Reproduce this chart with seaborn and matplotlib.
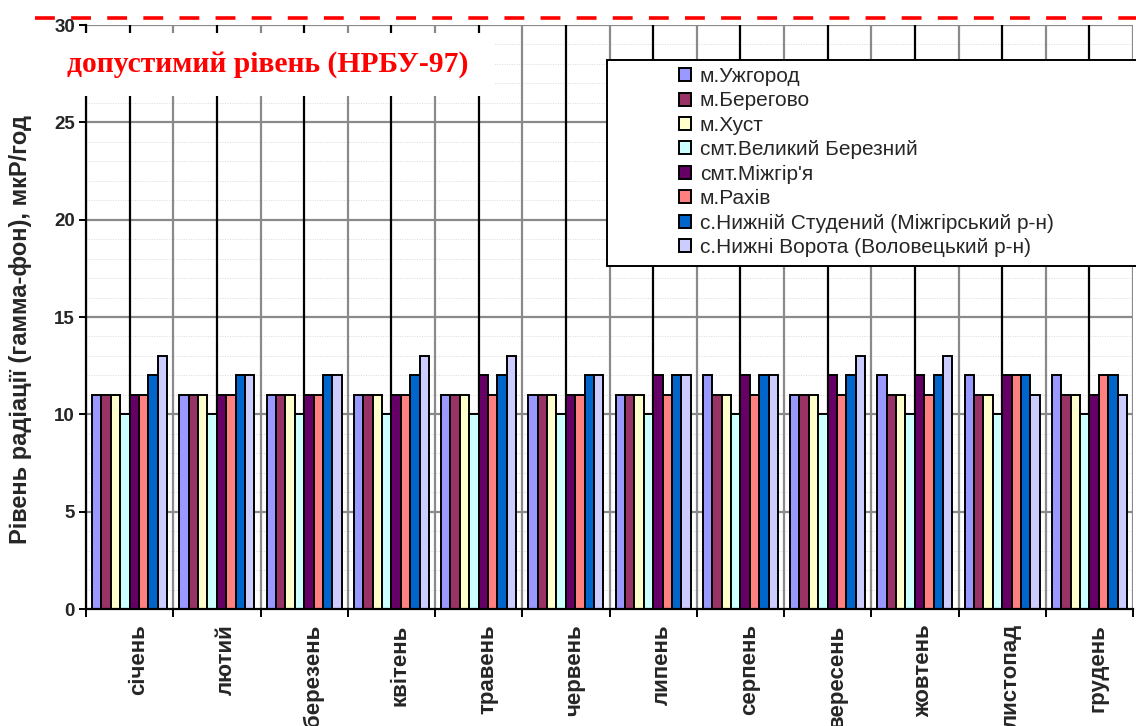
import numpy as np
import pandas as pd
import seaborn as sns
import matplotlib
matplotlib.use("Agg")
import matplotlib.pyplot as plt
from matplotlib.patches import Rectangle, Patch
from matplotlib.lines import Line2D
from matplotlib.ticker import MultipleLocator, FixedLocator
import matplotlib.transforms as mtransforms

# Monthly gamma background, mkR/h
months = ["січень", "лютий", "березень", "квітень", "травень", "червень",
          "липень", "серпень", "вересень", "жовтень", "листопад", "грудень"]

stations = ["м.Ужгород", "м.Берегово", "м.Хуст", "смт.Великий Березний",
            "смт.Міжгір'я", "м.Рахів", "с.Нижній Студений (Міжгірський р-н)",
            "с.Нижні Ворота (Воловецький р-н)"]

uzhhorod      = [11, 11, 11, 11, 11, 11, 11, 12, 11, 12, 12, 12]
berehove      = [11, 11, 11, 11, 11, 11, 11, 11, 11, 11, 11, 11]
khust         = [11, 11, 11, 11, 11, 11, 11, 11, 11, 11, 11, 11]
velykyi_bereznyi = [10, 10, 10, 10, 10, 10, 10, 10, 10, 10, 10, 10]
mizhhiria     = [11, 11, 11, 11, 12, 11, 12, 12, 12, 12, 12, 11]
rakhiv        = [11, 11, 11, 11, 11, 11, 11, 11, 11, 11, 12, 12]
nyzhnii_studenyi = [12, 12, 12, 12, 12, 12, 12, 12, 12, 12, 12, 12]
nyzhni_vorota = [13, 12, 12, 13, 13, 12, 12, 12, 13, 13, 11, 11]

limit_level = 30
limit_label = "допустимий рівень (НРБУ-97)"
y_label = "Рівень радіації (гамма-фон), мкР/год"

colors = ["#9999FF", "#993366", "#FFFFCC", "#CCFFFF",
          "#660066", "#FF8080", "#0066CC", "#CCCCFF"]

series = [uzhhorod, berehove, khust, velykyi_bereznyi,
          mizhhiria, rakhiv, nyzhnii_studenyi, nyzhni_vorota]

df = pd.DataFrame([
    {"month": m, "station": s, "value": v}
    for s, vals in zip(stations, series)
    for m, v in zip(months, vals)
])

sns.set_theme(style="white")
plt.rcParams["font.family"] = ["Liberation Sans", "DejaVu Sans"]

W, H = 1136, 726
fig = plt.figure(figsize=(W / 100, H / 100), dpi=100)
ax = fig.add_axes([86 / W, 1 - 609 / H, (1133 - 86) / W, (609 - 25) / H])

sns.barplot(data=df, x="month", y="value", hue="station",
            order=months, hue_order=stations, palette=colors,
            saturation=1, width=0.86, edgecolor="black", linewidth=1.4,
            errorbar=None, ax=ax, legend=False, zorder=3)

n = len(months)
ax.set_xlim(-0.5, n - 0.5)
ax.set_ylim(0, limit_level)

# grid: faint dotted every unit, solid grey every 5
ax.yaxis.set_major_locator(MultipleLocator(5))
ax.yaxis.set_minor_locator(MultipleLocator(1))
ax.grid(False)
for v in range(1, limit_level + 1):
    if v % 5:
        ax.axhline(v, color="#DADADA", lw=0.7, ls=(0, (1, 1.5)), zorder=0.3)
    else:
        ax.axhline(v, color="#8A8A8A", lw=1.6, zorder=0.4)
for k in range(n + 1):
    ax.axvline(k - 0.5, color="#8A8A8A", lw=1.6, zorder=0.5)
for k in range(n):
    ax.axvline(k, color="black", lw=1.6, zorder=0.6)

for side in ["top", "right"]:
    ax.spines[side].set_visible(False)
for side in ["left", "bottom"]:
    ax.spines[side].set_color("black")
    ax.spines[side].set_linewidth(1.6)
    ax.spines[side].set_zorder(4)

# y ticks
ax.tick_params(axis="y", which="major", direction="out", length=5, width=1.4,
               color="black", left=True, labelsize=13.5, pad=3)
ax.tick_params(axis="y", which="minor", length=0)
for lab in ax.get_yticklabels():
    lab.set_fontweight("bold")

# x ticks at group boundaries, labels at group centres
ax.xaxis.set_major_locator(FixedLocator(np.arange(n + 1) - 0.5))
ax.xaxis.set_minor_locator(FixedLocator(np.arange(n)))
ax.set_xticklabels([""] * (n + 1))
ax.set_xticklabels(months, minor=True, rotation=90, fontsize=16,
                   fontweight="bold", va="top", ha="center")
ax.tick_params(axis="x", which="major", direction="out", length=6, width=1.4,
               color="black", bottom=True)
ax.tick_params(axis="x", which="minor", length=0, pad=11)
shift = mtransforms.ScaledTranslation(9 / 100, 0, fig.dpi_scale_trans)
for lab in ax.xaxis.get_minorticklabels():
    lab.set_transform(lab.get_transform() + shift)

ax.set_xlabel("")
ax.set_ylabel("")
fig.text(21 / W, 1 - 330 / H, y_label, rotation=90, ha="center", va="center",
         fontsize=17, fontweight="bold")

# permissible level line
fig.add_artist(Line2D([35 / W, 1.0], [1 - 18 / H, 1 - 18 / H],
                      transform=fig.transFigure, color="#FF0000", lw=2.6,
                      dashes=(5.5, 4.5), zorder=6))

# label for the limit on a white panel
fig.add_artist(Rectangle((60 / W, 1 - 96 / H), (495 - 60) / W, (96 - 33) / H,
                         transform=fig.transFigure, facecolor="white",
                         edgecolor="none", zorder=5))
fig.text(67 / W, 1 - 65 / H, limit_label, ha="left", va="center",
         fontsize=21.3, fontweight="bold", color="#FF0000",
         family=["Liberation Serif", "DejaVu Serif"], zorder=7)

# legend panel
fig.add_artist(Rectangle((607 / W, 1 - 266 / H), (W + 10 - 607) / W, (266 - 60) / H,
                         transform=fig.transFigure, facecolor="white",
                         edgecolor="black", lw=1.4, zorder=5))
handles = [Patch(facecolor=c, edgecolor="black", lw=1.4) for c in colors]
leg = fig.legend(handles, stations, loc="upper left",
                 bbox_to_anchor=(679 / W, 1 - 67 / H), frameon=False,
                 fontsize=15, handlelength=0.58, handleheight=0.58,
                 handletextpad=0.42, labelspacing=0.26, borderpad=0,
                 borderaxespad=0)
leg.set_zorder(8)

fig.savefig("out.png", dpi=100)
